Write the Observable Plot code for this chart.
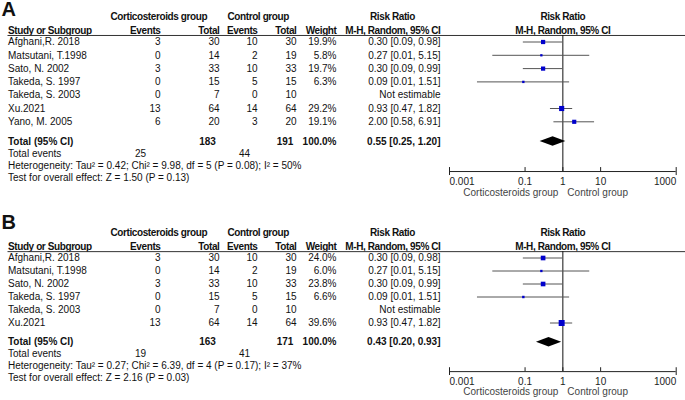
<!DOCTYPE html>
<html><head><meta charset="utf-8">
<script src="https://cdn.jsdelivr.net/npm/d3@7"></script>
<script src="https://cdn.jsdelivr.net/npm/@observablehq/plot@0.6"></script>
<style>
body{margin:0;background:#fff;}
#chart{width:685px;}
#chart svg{display:block;}
</style></head><body><div id="chart"></div>
<script>
// ---- data ----
const studyNames = ["Afghani,R. 2018","Matsutani, T.1998","Sato, N. 2002","Takeda, S. 1997","Takeda, S. 2003","Xu.2021","Yano, M. 2005"];
const cortEvents = [3,0,3,0,0,13,6];
const cortTotal  = [30,14,33,15,7,64,20];
const ctrlEvents = [10,2,10,5,0,14,3];
const ctrlTotal  = [30,19,33,15,10,64,20];
const riskRatio  = [0.30,0.27,0.30,0.09,null,0.93,2.00];
const ciLow      = [0.09,0.014,0.09,0.0055,null,0.47,0.58];
const ciHigh     = [0.98,5.15,0.99,1.51,null,1.82,6.91];
const weightA    = [19.9,5.8,19.7,6.3,null,29.2,19.1];
const weightB    = [24.0,6.0,23.8,6.6,null,39.6];
const pooledA    = [0.55,0.25,1.20];
const pooledB    = [0.43,0.20,0.93];
const totalNA    = [183,191];
const totalNB    = [163,171];
const totalEvA   = [25,44];
const totalEvB   = [19,41];
const hetA  = "Heterogeneity: Tau² = 0.42; Chi² = 9.98, df = 5 (P = 0.08); I² = 50%";
const testA = "Test for overall effect: Z = 1.50 (P = 0.13)";
const hetB  = "Heterogeneity: Tau² = 0.27; Chi² = 6.39, df = 4 (P = 0.17); I² = 37%";
const testB = "Test for overall effect: Z = 2.16 (P = 0.03)";
const groupLabels = ["Corticosteroids group","Control group"];
const axisTicks = [0.001,0.1,1,10,1000];
const axisTickLabels = ["0.001","0.1","1","10","1000"];

// ---- layout ----
const COL = {name:7.5, evT:160, totT:219, evC:257, totC:296, weight:336, ci:440, grpT:110, grpC:227, rrHead:392,
             totTmid:207, totCmid:284.5, evTmid:140, evCmid:244};
const f2 = v => v.toFixed(2);

function panel(p) {
  const n = p.count;
  const rows = d3.range(n).map(i => ({
    i, name: studyNames[i], evT: cortEvents[i], totT: cortTotal[i], evC: ctrlEvents[i], totC: ctrlTotal[i],
    rr: riskRatio[i], lo: ciLow[i], hi: ciHigh[i], w: p.weight[i]
  }));
  const est = rows.filter(d => d.rr != null);
  const K = {label:p.labelK, h1:-1.92, h2:-0.83, rule:-0.49, total:n+0.48, events:n+1.38, het:n+2.29, test:n+3.19,
             axis:n+2.74, tickLab:n+3.49, side:n+4.32};
  const t = (str, k, px, anchor, o = {}) =>
    Plot.text([str], {text: d => d, y: () => k, frameAnchor: "left", dx: px, textAnchor: anchor, ...o});
  const col = (acc, px, anchor = "end", o = {}) =>
    Plot.text(rows, {text: acc, y: "i", frameAnchor: "left", dx: px, textAnchor: anchor, ...o});
  const H = {fontWeight: 700};      // header text (tightened below)
  const B = {fontWeight: "bold"};   // total row text
  const [prr, plo, phi] = p.pooled;
  const dia = [{x: plo, a: K.total, b: K.total}, {x: prr, a: K.total - 0.36, b: K.total + 0.36}, {x: phi, a: K.total, b: K.total}];
  const last = axisTicks.length - 1;
  const svg = Plot.plot({
    width: 685, height: 200, margin: 0,
    style: {fontFamily: "'Liberation Sans', Arial, sans-serif", fontSize: "10px", color: "#111", background: "#fff", overflow: "visible"},
    x: {type: "log", domain: [axisTicks[0], axisTicks[last]], range: [449, 675.7], axis: null},
    y: {domain: [0, 1], range: [p.top, p.top + p.pitch], axis: null},
    r: {type: "sqrt", domain: [0, 100], range: [0, 5.36]},
    marks: [
      t(p.letter, K.label, 1, "start", {fontWeight: "bold", fontSize: 20}),
      // headers
      t(groupLabels[0], K.h1, COL.grpT, "start", H),
      t(groupLabels[1], K.h1, COL.grpC, "start", H),
      t("Risk Ratio", K.h1, COL.rrHead, "middle", H),
      Plot.text(["Risk Ratio"], {text: d => d, x: () => 1, y: () => K.h1, ...H}),
      t("Study or Subgroup", K.h2, COL.name, "start", H),
      t("Events", K.h2, COL.evT, "end", H),
      t("Total", K.h2, COL.totT, "end", H),
      t("Events", K.h2, COL.evC, "end", H),
      t("Total", K.h2, COL.totC, "end", H),
      t("Weight", K.h2, COL.weight, "end", H),
      t("M-H, Random, 95% CI", K.h2, COL.ci, "end", H),
      Plot.text(["M-H, Random, 95% CI"], {text: d => d, x: () => 1, y: () => K.h2, ...H}),
      Plot.ruleY([K.rule], {insetLeft: COL.name, stroke: "#333"}),
      // study rows
      col("name", COL.name, "start"),
      col("evT", COL.evT),
      col("totT", COL.totT),
      col("evC", COL.evC),
      col("totC", COL.totC),
      col(d => d.w == null ? "" : d.w.toFixed(1) + "%", COL.weight),
      col(d => d.rr == null ? "Not estimable" : `${f2(d.rr)} [${f2(d.lo)}, ${f2(d.hi)}]`, COL.ci),
      // totals
      t("Total (95% CI)", K.total, COL.name, "start", B),
      t(String(p.totalN[0]), K.total, COL.totTmid, "middle", B),
      t(String(p.totalN[1]), K.total, COL.totCmid, "middle", B),
      t("100.0%", K.total, COL.weight, "end", B),
      t(`${f2(prr)} [${f2(plo)}, ${f2(phi)}]`, K.total, COL.ci, "end", B),
      t("Total events", K.events, COL.name, "start"),
      t(String(p.totalEv[0]), K.events, COL.evTmid, "middle"),
      t(String(p.totalEv[1]), K.events, COL.evCmid, "middle"),
      t(p.het, K.het, COL.name, "start"),
      t(p.test, K.test, COL.name, "start"),
      // forest
      Plot.ruleX([1], {y1: () => K.rule, y2: () => K.axis, stroke: "#111"}),
      Plot.ruleY(est, {y: "i", x1: "lo", x2: "hi", stroke: "#555"}),
      Plot.dot(est, {x: "rr", y: "i", r: "w", symbol: "square", fill: "#0000CC", stroke: "none"}),
      Plot.areaY(dia, {x: "x", y1: "a", y2: "b", fill: "#000"}),
      // axis
      Plot.ruleY([K.axis], {x1: () => axisTicks[0], x2: () => axisTicks[last], stroke: "#222"}),
      Plot.ruleX([axisTicks[0], axisTicks[last]], {y1: () => K.axis - 0.3, y2: () => K.axis + 0.3, stroke: "#222"}),
      Plot.ruleX(axisTicks.slice(1, last), {y1: () => K.axis - 0.3, y2: () => K.axis, stroke: "#222"}),
      Plot.text([0], {x: i => axisTicks[i], y: () => K.tickLab, text: i => axisTickLabels[i], textAnchor: "start", fill: "#222"}),
      Plot.text(d3.range(1, last), {x: i => axisTicks[i], y: () => K.tickLab, text: i => axisTickLabels[i], textAnchor: "middle", fill: "#222"}),
      Plot.text([last], {x: i => axisTicks[i], y: () => K.tickLab, text: i => axisTickLabels[i], textAnchor: "end", fill: "#222"}),
      Plot.text([groupLabels[0]], {text: d => d, x: () => 1, y: () => K.side, textAnchor: "end", dx: -4.5, fill: "#444"}),
      Plot.text([groupLabels[1]], {text: d => d, x: () => 1, y: () => K.side, textAnchor: "start", dx: 4.5, fill: "#444"})
    ]
  });
  // tighten bold header lettering
  svg.querySelectorAll('g[font-weight="700"]').forEach(g => g.setAttribute("letter-spacing", "-0.4"));
  return svg;
}

const chart = document.getElementById("chart");
chart.append(panel({letter: "A", count: 7, weight: weightA, pooled: pooledA, totalN: totalNA, totalEv: totalEvA, het: hetA, test: testA, top: 41.5, pitch: 13.3, labelK: -2.4}));
chart.append(panel({letter: "B", count: 6, weight: weightB, pooled: pooledB, totalN: totalNB, totalEv: totalEvB, het: hetB, test: testB, top: 57.5, pitch: 13.0, labelK: -2.69}));
</script>
</body></html>
